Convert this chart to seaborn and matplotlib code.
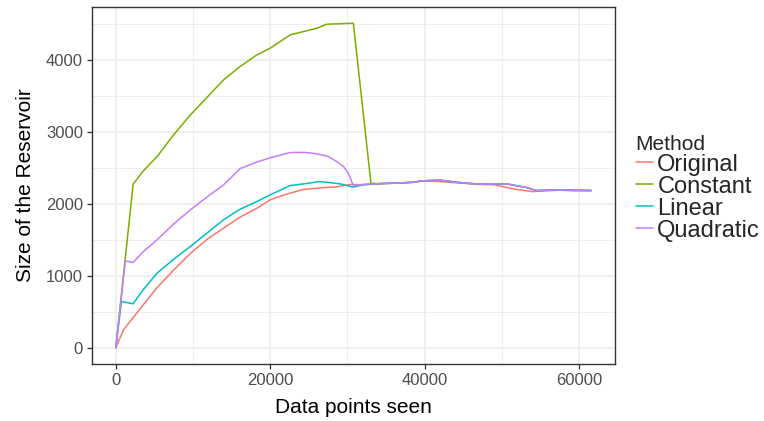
import pandas as pd
import matplotlib.pyplot as plt
import seaborn as sns
from matplotlib.ticker import MultipleLocator

METHODS = ["Original", "Constant", "Linear", "Quadratic"]
COLORS = ["#F8766D", "#7CAE00", "#00BFC4", "#C77CFF"]

# shared tail once the methods converge
tail_x = [34000, 36800, 38500, 39800, 42000, 44500, 47000, 50600, 53200, 54500, 57500, 59500, 61600]
tail_y = [2280, 2290, 2300, 2320, 2329, 2296, 2274, 2278, 2227, 2185, 2194, 2190, 2185]

orig_x = [0, 1000, 3000, 5300, 7500, 9700, 12000, 14000, 16000, 18300, 20000, 22000, 24300, 26900,
          28500, 30400, 32000, 34000, 36800, 38500, 40000, 42000, 44500, 47000, 49000, 51900, 54000,
          55500, 57500, 59500, 61600]
orig_y = [0, 250, 520, 830, 1080, 1315, 1520, 1665, 1810, 1940, 2056, 2130, 2200, 2225,
          2235, 2270, 2265, 2280, 2290, 2300, 2320, 2310, 2290, 2270, 2265, 2200, 2170,
          2180, 2190, 2180, 2185]

const_x = [0, 2250, 3500, 5350, 7500, 9660, 12000, 13960, 16000, 18280, 20000, 22590, 23450,
           26040, 27330, 30780, 33060] + tail_x
const_y = [0, 2274, 2450, 2657, 2960, 3236, 3500, 3723, 3900, 4070, 4163, 4348, 4371,
           4440, 4496, 4510, 2287] + tail_y

lin_x = [0, 740, 2250, 3500, 5350, 7500, 9660, 12000, 13960, 16000, 18280, 20000, 22590, 24500,
         26470, 29050, 30780, 32000] + tail_x
lin_y = [0, 643, 611, 800, 1037, 1230, 1407, 1610, 1778, 1920, 2032, 2125, 2254, 2280,
         2310, 2278, 2232, 2265] + tail_y

quad_x = [0, 1250, 2250, 3500, 5350, 7500, 9660, 12000, 13960, 16120, 18000, 20000, 22590, 24500,
          26040, 27500, 28620, 29500, 30130, 30780, 32000] + tail_x
quad_y = [0, 1208, 1185, 1330, 1500, 1720, 1917, 2110, 2264, 2490, 2570, 2640, 2713, 2715,
          2695, 2660, 2588, 2520, 2426, 2250, 2270] + tail_y

frames = []
for name, xs, ys in zip(METHODS, [orig_x, const_x, lin_x, quad_x], [orig_y, const_y, lin_y, quad_y]):
    frames.append(pd.DataFrame({"x": xs, "y": ys, "Method": name}))
df = pd.concat(frames, ignore_index=True)

sns.set_theme(style="white")
plt.rcParams["font.family"] = ["Liberation Sans", "DejaVu Sans"]

fig = plt.figure(figsize=(7.64, 4.21), dpi=100)
ax = fig.add_axes([92 / 764, 1 - 364 / 421, (615 - 92) / 764, (364 - 7) / 421])
sns.lineplot(data=df, x="x", y="y", hue="Method", hue_order=METHODS, palette=COLORS,
             sort=False, estimator=None, lw=1.1, ax=ax, legend=False)

ax.set_xlim(-3080, 64680)
ax.set_ylim(-225.5, 4735.5)
ax.xaxis.set_major_locator(MultipleLocator(20000))
ax.xaxis.set_minor_locator(MultipleLocator(10000))
ax.yaxis.set_major_locator(MultipleLocator(1000))
ax.yaxis.set_minor_locator(MultipleLocator(500))
ax.grid(which="major", color="#EBEBEB", lw=1.1)
ax.grid(which="minor", color="#EBEBEB", lw=0.6)
ax.set_axisbelow(True)
for s in ax.spines.values():
    s.set_color("#333333"); s.set_linewidth(1.0)
ax.tick_params(which="major", length=3.5, width=0.9, color="#333333", labelcolor="#4D4D4D",
               labelsize=12, pad=3, bottom=True, left=True)
ax.tick_params(which="minor", length=0)
ax.set_xlabel("Data points seen", fontsize=15, labelpad=7, color="black")
ax.set_ylabel("Size of the Reservoir", fontsize=15, labelpad=8, color="black")

handles = [plt.Line2D([], [], color=c, lw=1.1) for c in COLORS]
leg = fig.legend(handles, METHODS, title="Method", loc="center left", bbox_to_anchor=(0.832, 0.553),
                 frameon=False, fontsize=17, title_fontsize=15, handlelength=0.72, handletextpad=0.2,
                 labelspacing=0.0, borderaxespad=0, borderpad=0)
leg._legend_box.align = "left"

fig.savefig("out.png", dpi=100)
